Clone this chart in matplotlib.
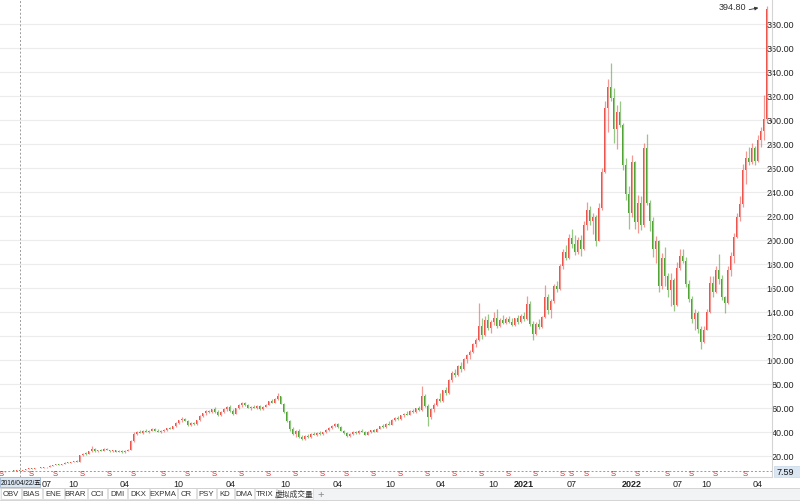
import matplotlib
matplotlib.use("Agg")
import matplotlib.pyplot as plt
from matplotlib.patches import Rectangle
import numpy as np

# ---------------- data (weekly-like candles, index based) ----------------
candles = [
    (7.0, 7.4, 6.8, 7.2), (7.2, 7.6, 7.0, 7.5), (7.5, 7.8, 7.2, 7.3), (7.3, 7.9, 7.2, 7.8),
    (7.8, 8.1, 7.5, 7.6), (7.6, 8.0, 7.4, 7.9), (7.9, 8.2, 7.5, 7.59), (7.6, 8.6, 7.5, 8.5),
    (8.5, 9.2, 8.3, 9.0), (9.0, 9.6, 8.8, 9.4), (9.4, 9.8, 9.0, 9.2), (9.2, 10.0, 9.0, 9.8),
    (9.8, 10.4, 9.6, 10.1), (10.1, 10.5, 9.7, 9.9), (9.9, 10.8, 9.8, 10.6), (10.6, 11.2, 10.3, 10.9),
    (10.9, 12.2, 10.8, 12.0), (12.0, 12.8, 11.6, 12.5), (12.5, 13.2, 12.1, 12.9), (12.9, 13.4, 12.3, 12.6),
    (12.6, 13.6, 12.4, 13.3), (13.3, 14.6, 13.1, 14.3), (14.3, 15.0, 13.8, 14.1), (14.1, 15.4, 13.9, 15.2),
    (15.2, 16.0, 14.8, 15.6), (15.6, 16.4, 15.0, 15.3), (15.3, 21.0, 15.2, 20.5), (20.5, 22.6, 19.8, 22.0),
    (22.0, 23.4, 21.2, 21.6), (21.6, 24.2, 21.3, 23.8), (23.8, 28.2, 23.4, 25.6), (25.6, 26.4, 23.6, 24.0),
    (24.0, 25.2, 23.2, 24.8), (24.8, 25.6, 23.8, 24.2), (24.2, 26.6, 24.0, 26.0), (26.0, 26.8, 24.6, 24.9),
    (24.9, 25.4, 23.6, 24.0), (24.0, 25.0, 23.2, 24.6), (24.6, 25.2, 23.0, 23.4), (23.4, 24.8, 23.0, 24.4),
    (24.4, 25.0, 22.8, 23.2), (23.2, 24.6, 22.6, 24.2), (24.2, 25.8, 23.8, 25.4), (25.4, 33.0, 25.2, 32.4),
    (32.4, 39.6, 32.0, 38.6), (38.6, 41.2, 37.4, 40.2), (40.2, 42.0, 39.0, 39.4), (39.4, 41.4, 38.6, 41.0),
    (41.0, 42.4, 39.8, 40.4), (40.4, 41.6, 39.2, 41.2), (41.2, 43.0, 40.6, 42.4), (42.4, 43.2, 40.8, 41.2),
    (41.2, 42.6, 39.8, 40.2), (40.2, 41.4, 38.8, 40.8), (40.8, 42.2, 40.2, 41.8), (41.8, 43.6, 41.2, 43.0),
    (43.0, 44.4, 42.2, 42.6), (42.6, 45.0, 42.2, 44.6), (44.6, 48.2, 44.0, 47.6), (47.6, 50.4, 46.8, 49.8),
    (49.8, 52.2, 48.6, 51.2), (51.2, 52.0, 48.8, 49.4), (49.4, 50.0, 45.2, 45.8), (45.8, 48.0, 44.8, 47.4),
    (47.4, 48.6, 45.8, 46.6), (46.6, 50.2, 46.2, 49.8), (49.8, 54.0, 49.4, 53.4), (53.4, 56.2, 52.6, 55.6),
    (55.6, 58.0, 54.4, 57.2), (57.2, 58.6, 55.8, 56.4), (56.4, 59.4, 55.6, 58.8), (58.8, 60.8, 56.0, 56.6),
    (56.6, 58.2, 53.2, 54.0), (54.0, 57.6, 53.4, 57.0), (57.0, 59.6, 56.2, 58.8), (58.8, 62.0, 57.8, 61.2),
    (61.2, 62.4, 57.0, 57.8), (57.8, 59.0, 54.2, 55.0), (55.0, 60.2, 54.6, 59.6), (59.6, 63.2, 59.0, 62.4),
    (62.4, 64.6, 61.2, 63.8), (63.8, 64.8, 61.8, 62.4), (62.4, 63.6, 59.8, 60.2), (60.2, 61.6, 58.4, 61.0),
    (61.0, 62.4, 59.6, 60.4), (60.4, 62.2, 59.4, 61.6), (61.6, 62.8, 58.6, 59.0), (59.0, 61.8, 58.2, 61.2),
    (61.2, 63.4, 60.6, 62.8), (62.8, 66.2, 62.2, 65.6), (65.6, 67.4, 63.8, 64.4), (64.4, 68.6, 64.0, 67.8),
    (67.8, 72.2, 66.8, 69.6), (69.6, 70.4, 63.0, 63.6), (63.6, 64.4, 56.2, 57.0), (57.0, 57.8, 48.6, 49.4),
    (49.4, 50.2, 41.0, 42.2), (42.2, 44.0, 37.6, 38.4), (38.4, 41.8, 36.2, 40.6), (40.6, 42.4, 34.8, 35.6),
    (35.6, 37.2, 33.0, 33.8), (33.8, 37.4, 33.2, 36.8), (36.8, 38.6, 35.4, 35.8), (35.8, 39.0, 35.2, 38.4),
    (38.4, 40.4, 37.2, 37.6), (37.6, 39.8, 36.6, 39.2), (39.2, 41.0, 37.8, 38.2), (38.2, 40.2, 37.4, 39.8),
    (39.8, 42.6, 39.2, 42.0), (42.0, 44.2, 41.2, 43.6), (43.6, 45.8, 42.8, 45.2), (45.2, 47.8, 44.4, 46.6),
    (46.6, 47.2, 43.4, 44.0), (44.0, 44.8, 40.6, 41.2), (41.2, 42.0, 38.2, 38.8), (38.8, 39.6, 36.2, 36.8),
    (36.8, 38.8, 35.8, 38.2), (38.2, 40.6, 37.6, 40.0), (40.0, 41.2, 38.4, 38.8), (38.8, 41.8, 38.2, 41.2),
    (41.2, 42.6, 39.6, 40.2), (40.2, 40.8, 37.2, 37.8), (37.8, 40.6, 37.2, 40.0), (40.0, 42.0, 39.2, 41.4),
    (41.4, 42.6, 39.8, 40.4), (40.4, 43.4, 40.0, 42.8), (42.8, 45.2, 42.2, 44.6), (44.6, 46.4, 43.2, 43.8),
    (43.8, 47.6, 43.4, 47.0), (47.0, 49.4, 45.6, 46.2), (46.2, 50.6, 45.8, 50.0), (50.0, 52.4, 48.8, 51.6),
    (51.6, 53.2, 50.2, 50.8), (50.8, 54.4, 50.2, 53.8), (53.8, 56.2, 52.6, 55.4), (55.4, 57.4, 53.8, 54.4),
    (54.4, 58.2, 54.0, 57.6), (57.6, 59.4, 55.6, 56.4), (56.4, 60.2, 55.8, 59.6), (59.6, 62.0, 57.4, 58.2),
    (58.2, 78.2, 57.8, 70.4), (70.4, 72.0, 61.2, 62.0), (62.0, 63.2, 45.4, 52.6), (52.6, 60.4, 50.8, 59.0),
    (59.0, 64.2, 56.8, 62.8), (62.8, 68.6, 61.6, 67.4), (67.4, 72.2, 64.6, 65.6), (65.6, 75.4, 65.0, 74.6),
    (74.6, 77.6, 70.8, 72.4), (72.4, 84.2, 72.0, 83.2), (83.2, 90.6, 81.4, 89.4), (89.4, 92.8, 86.2, 87.6),
    (87.6, 95.8, 87.0, 94.8), (94.8, 98.6, 90.4, 92.2), (92.2, 101.4, 91.6, 100.6), (100.6, 105.2, 97.4, 103.8),
    (103.8, 108.4, 101.2, 106.6), (106.6, 114.2, 105.8, 113.4), (113.4, 118.6, 110.8, 116.8), (116.8, 147.2, 116.2, 128.4),
    (128.4, 134.6, 117.4, 121.2), (121.2, 136.8, 119.6, 133.6), (133.6, 138.4, 125.2, 126.4), (126.4, 133.4, 122.2, 131.8),
    (131.8, 140.2, 129.4, 135.2), (135.2, 142.6, 126.6, 128.2), (128.2, 134.8, 127.4, 133.6), (133.6, 137.2, 129.8, 131.2),
    (131.2, 135.6, 129.6, 134.4), (134.4, 136.8, 130.8, 132.0), (132.0, 134.6, 128.2, 129.4), (129.4, 135.2, 128.6, 134.6),
    (134.6, 137.4, 130.4, 131.8), (131.8, 138.2, 130.6, 136.4), (136.4, 139.6, 132.2, 133.8), (133.8, 153.4, 133.0, 146.8),
    (146.8, 149.2, 128.4, 130.2), (130.2, 132.6, 116.4, 121.8), (121.8, 131.4, 120.6, 129.8), (129.8, 134.2, 125.6, 127.2),
    (127.2, 136.8, 126.4, 135.6), (135.6, 162.4, 134.8, 152.2), (152.2, 155.0, 138.6, 141.4), (141.4, 150.6, 134.8, 148.8),
    (148.8, 163.6, 147.2, 161.4), (161.4, 166.2, 156.4, 159.2), (159.2, 180.4, 158.6, 178.6), (178.6, 192.4, 176.2, 189.6),
    (189.6, 196.2, 183.4, 185.2), (185.2, 204.6, 184.2, 201.8), (201.8, 209.4, 193.6, 196.4), (196.4, 203.8, 187.4, 190.2),
    (190.2, 202.6, 188.4, 199.6), (199.6, 204.2, 186.8, 192.8), (192.8, 215.6, 191.4, 212.4), (212.4, 231.6, 208.2, 224.8),
    (224.8, 228.4, 212.6, 216.2), (216.2, 222.4, 204.8, 219.0), (219.0, 221.2, 194.6, 199.4), (199.4, 231.2, 198.8, 226.4),
    (226.4, 259.6, 225.2, 256.8), (256.8, 316.2, 255.4, 309.6), (309.6, 334.0, 289.8, 327.4), (327.4, 347.4, 315.6, 318.2),
    (318.2, 327.0, 280.6, 292.4), (292.4, 312.8, 276.2, 306.4), (306.4, 315.6, 293.8, 296.2), (296.2, 297.4, 258.6, 262.4),
    (262.4, 268.2, 233.6, 238.2), (238.2, 244.6, 209.2, 222.6), (222.6, 270.4, 219.4, 264.8), (264.8, 266.2, 208.8, 214.6),
    (214.6, 237.8, 206.2, 230.4), (230.4, 236.4, 208.4, 212.8), (212.8, 281.2, 210.6, 276.4), (276.4, 288.4, 229.4, 231.2),
    (231.2, 233.0, 207.8, 215.4), (215.4, 219.2, 186.2, 192.6), (192.6, 203.4, 180.8, 199.2), (199.2, 200.4, 156.4, 161.8),
    (161.8, 189.2, 159.2, 184.6), (184.6, 194.2, 161.4, 170.2), (170.2, 172.6, 152.8, 158.4), (158.4, 172.2, 145.2, 166.6),
    (166.6, 168.4, 141.2, 146.2), (146.2, 181.4, 144.6, 176.8), (176.8, 192.2, 174.6, 186.4), (186.4, 192.4, 180.8, 182.2),
    (182.2, 186.2, 160.8, 163.6), (163.6, 166.4, 148.2, 151.2), (151.2, 153.6, 130.8, 134.2), (134.2, 142.2, 124.8, 139.4),
    (139.4, 140.6, 122.6, 126.2), (126.2, 128.4, 109.2, 114.6), (114.6, 128.2, 113.8, 125.4), (125.4, 142.4, 124.6, 140.2),
    (140.2, 170.4, 139.4, 163.8), (163.8, 170.2, 152.6, 156.4), (156.4, 178.2, 155.6, 174.6), (174.6, 188.4, 163.2, 167.4),
    (167.4, 170.6, 149.8, 152.2), (152.2, 153.6, 138.8, 147.4), (147.4, 178.4, 146.6, 175.2), (175.2, 190.2, 169.8, 186.8),
    (186.8, 205.4, 181.2, 202.6), (202.6, 222.2, 201.4, 219.4), (219.4, 236.4, 215.6, 230.2), (230.2, 263.2, 227.8, 258.4),
    (258.4, 274.2, 246.8, 268.6), (268.6, 277.4, 262.6, 265.2), (265.2, 280.4, 263.2, 276.4), (276.4, 278.2, 262.8, 266.0),
    (266.0, 287.2, 265.2, 283.4), (283.4, 294.2, 277.8, 290.6), (290.6, 320.4, 283.6, 300.8), (300.8, 394.8, 297.6, 392.6),
]
opens = [c[0] for c in candles]
highs = [c[1] for c in candles]
lows = [c[2] for c in candles]
closes = [c[3] for c in candles]

y_ticks = [20, 40, 60, 80, 100, 120, 140, 160, 180, 200, 220, 240, 260, 280, 300, 320, 340, 360, 380]
x_tick_idx = [15, 24, 41, 59, 76.5, 94.5, 112, 129.5, 146.5, 164, 174.2, 190, 210, 225.5, 235, 252]
x_tick_labels = ["07", "10", "04", "10", "04", "10", "04", "10", "04", "10", "2021", "07", "2022", "07", "10", "04"]
s_marker_idx = [0, 10, 18, 27, 36, 44, 54, 62, 71, 80, 89, 98, 107, 115, 124, 133, 142, 151, 160, 169,
                178, 187, 190, 195, 204, 212, 222, 230, 238, 248]
cursor_idx = 6
cursor_label = "2016/04/22/五"
cursor_price = 7.59
max_price = 394.80
tab_names = ["OBV", "BIAS", "ENE", "BRAR", "CCI", "DMI", "DKX", "EXPMA", "CR", "PSY", "KD", "DMA", "TRIX", "虚拟成交量"]

# ---------------- styling ----------------
FONT = ["Liberation Sans", "Noto Sans CJK SC", "DejaVu Sans"]
plt.rcParams["font.family"] = FONT
RED = "#e8453c"
GREEN = "#3f9a22"

fig = plt.figure(figsize=(8, 5.02), dpi=100)
fig.patch.set_facecolor("white")
ax = fig.add_axes([0, 24 / 502, 772 / 800, 478 / 502])
ax.set_xlim(-0.5, 256.83)
ax.set_ylim(2.5, 400.8)

n = len(candles)
idx = np.arange(n)
o = np.array(opens); h = np.array(highs); l = np.array(lows); c = np.array(closes)
up = c >= o
cols = np.where(up, RED, GREEN)

# grid
for v in y_ticks:
    ax.axhline(v, color="#ececec", lw=0.8, zorder=0)

# wicks
ax.vlines(idx, l, h, colors=cols, lw=0.9, alpha=0.55, zorder=2)
# bodies
body_bot = np.minimum(o, c)
body_h = np.maximum(np.abs(c - o), 0.6)
ax.bar(idx, body_h, bottom=body_bot, width=0.62, color=cols, alpha=0.9, lw=0, zorder=3)

# cursor lines
ax.axvline(cursor_idx, color="#9a9a9a", lw=0.7, ls=(0, (2, 2)), zorder=1)
ax.axhline(cursor_price, color="#9a9a9a", lw=0.7, ls=(0, (2, 2)), zorder=1)

# S markers
for si in s_marker_idx:
    ax.text(si, 5.0, "S", color="#e02020", fontsize=5.5, ha="center", va="center", zorder=4)

# max annotation: label plus a short arrow pointing at the high
ax.annotate(f"{max_price:.2f}", xy=(n - 1, max_price), xytext=(-14.5, 0), textcoords="offset points",
            ha="right", va="center", fontsize=6.5, color="#333333")
ax.annotate("", xy=(n - 1, max_price), xytext=(-12.5, -2.5), textcoords="offset points",
            arrowprops=dict(arrowstyle="-|>", color="#333333", lw=0.6, mutation_scale=5,
                            shrinkA=0, shrinkB=6))

# axes styling
for s in ["top", "left"]:
    ax.spines[s].set_visible(False)
for s in ["right", "bottom"]:
    ax.spines[s].set_color("#d4d4d4")
    ax.spines[s].set_linewidth(0.8)
ax.yaxis.tick_right()
ax.set_yticks(y_ticks)
ax.set_yticklabels([f"{v:.2f}" for v in y_ticks])
ax.tick_params(axis="y", length=0, pad=15.8, labelsize=6.5, labelcolor="#222222")
for lbl in ax.get_yticklabels():
    lbl.set_ha("right")
ax.set_xticks(x_tick_idx)
ax.set_xticklabels(x_tick_labels)
ax.tick_params(axis="x", length=0, pad=1.5, labelsize=6.5, labelcolor="#222222")
for lbl in ax.get_xticklabels():
    if lbl.get_text() in ("2021", "2022"):
        lbl.set_fontweight("bold")

# ---------------- overlay in pixel coordinates ----------------
ov = fig.add_axes([0, 0, 1, 1], zorder=5)
ov.set_xlim(0, 800)
ov.set_ylim(502, 0)
ov.axis("off")
ov.patch.set_alpha(0)

# cursor date box
ov.add_patch(Rectangle((0, 478), 40, 10, facecolor="#dbe6f3", edgecolor="#9fb6d3", lw=0.6))
ov.text(0.6, 483.2, cursor_label, fontsize=4.7, va="center", ha="left", color="#111111", family=FONT)
# cursor price box
ov.add_patch(Rectangle((774, 467), 26, 10.5, facecolor="#dbe6f3", edgecolor="#c8d6e8", lw=0.5))
ov.text(794, 472.3, f"{cursor_price:.2f}", fontsize=6.5, va="center", ha="right", color="#111111")

# tab bar
ov.add_patch(Rectangle((0, 488.5), 800, 13.5, facecolor="#f2f3f5", edgecolor="none"))
ov.plot([0, 800], [488.5, 488.5], color="#d0d0d0", lw=0.6)
ov.plot([0, 800], [500.5, 500.5], color="#d0d0d0", lw=0.6)
edges = [0, 21, 42, 64, 87, 107, 127, 149, 177, 196, 216, 234, 254, 276, 313]
for k, name in enumerate(tab_names):
    x0, x1 = edges[k], edges[k + 1]
    ov.add_patch(Rectangle((x0 + 0.5, 489), x1 - x0 - 1, 11, facecolor="white", edgecolor="#d6d6d6", lw=0.5))
    ov.text((x0 + x1) / 2, 494.8, name, fontsize=5.6, ha="center", va="center", color="#333333", family=FONT)
ov.text(321, 494.6, "+", fontsize=8, ha="center", va="center", color="#888888")

fig.savefig("out.png", dpi=100, facecolor="white")
